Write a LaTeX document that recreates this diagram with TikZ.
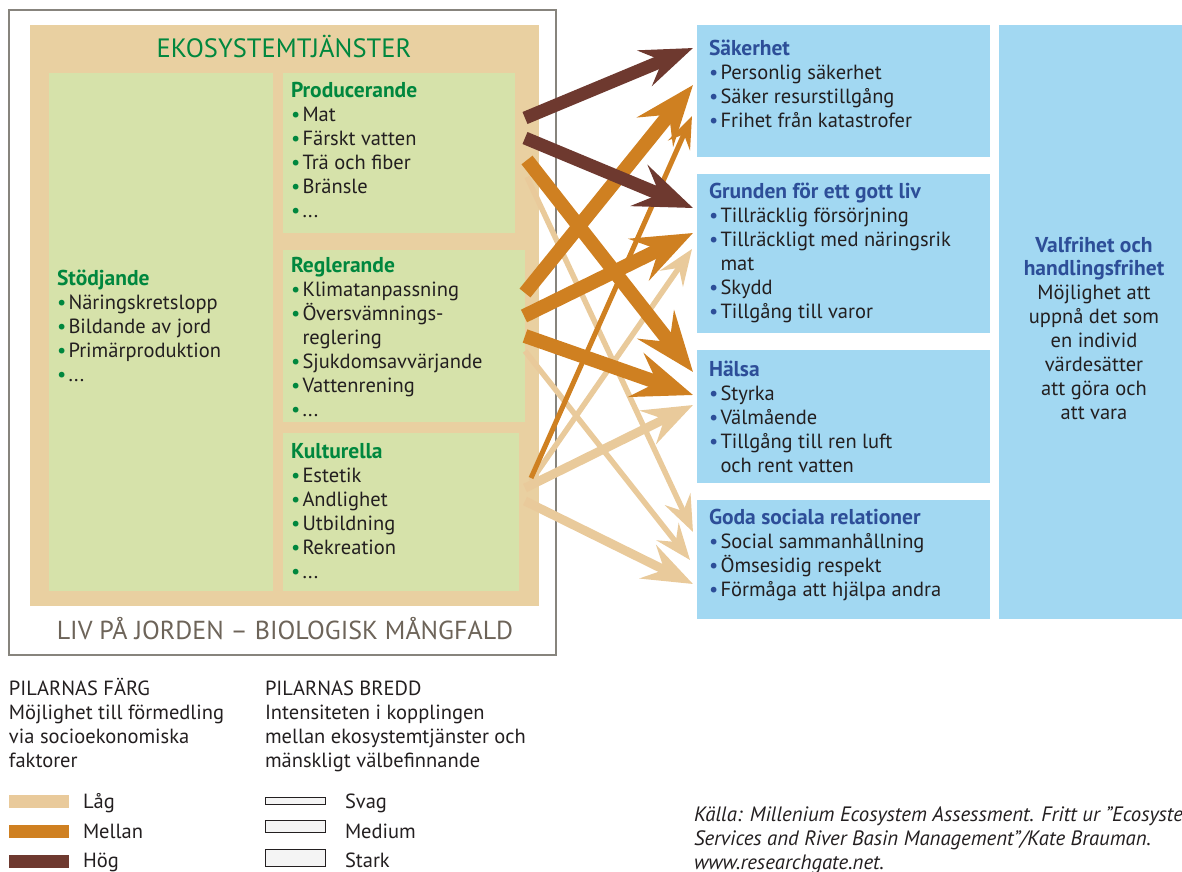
\documentclass[tikz,border=0pt]{standalone}
\usepackage{fontspec}
\setmainfont{PT Sans}
\usetikzlibrary{arrows.meta}
\definecolor{tanbg}{RGB}{233,208,161}
\definecolor{greenbox}{RGB}{214,226,170}
\definecolor{greentxt}{RGB}{0,135,62}
\definecolor{bluebox}{RGB}{162,216,242}
\definecolor{bluetxt}{RGB}{45,78,152}
\definecolor{darkarr}{RGB}{110,57,47}
\definecolor{orangearr}{RGB}{207,128,33}
\definecolor{tanarr}{RGB}{233,202,155}
\definecolor{framegray}{RGB}{135,132,125}
\definecolor{livtxt}{RGB}{109,100,89}
\definecolor{txt}{RGB}{35,31,32}
\definecolor{swfill}{RGB}{244,244,244}
\newcommand\gbul{\makebox[11.5pt][l]{\textcolor{greentxt}{•}}}
\newcommand\bbul{\makebox[11.5pt][l]{\textcolor{bluetxt}{•}}}
\newcommand\indt{\hspace*{11.5pt}}
\newcommand\tdots{.{}.{}.}
\newcommand\ghd[1]{{\fontsize{21.5}{24}\selectfont\bfseries\color{greentxt}#1}}
\newcommand\bhd[1]{{\fontsize{21.5}{24}\selectfont\bfseries\color{bluetxt}#1}}
\newcommand\boxlines[4]{\foreach \t [count=\i from 0] in {#4} {\node[tl] (#1\i) at (#2,#3+24*\i) {\t};}}
\begin{document}
\begin{tikzpicture}[x=1pt,y=-1pt,
  box/.style={anchor=north west,inner sep=0pt,outer sep=0pt},
  tl/.style={anchor=base west,inner sep=0pt,outer sep=0pt,font=\fontsize{20.5}{24}\selectfont,text=txt},
  tc/.style={anchor=base,inner sep=0pt,outer sep=0pt,font=\fontsize{20.5}{24}\selectfont,text=txt},
  darrow/.style={draw=darkarr,line width=13pt,-{Stealth[length=58pt,width=44pt,inset=22pt]}},
  oarrow/.style={draw=orangearr,line width=14pt,-{Stealth[length=60pt,width=46pt,inset=22pt]}},
  othin/.style={draw=orangearr,line width=5pt,-{Stealth[length=32pt,width=24pt,inset=12pt]}},
  tthin/.style={draw=tanarr,line width=5.5pt,-{Stealth[length=36pt,width=28pt,inset=13pt]}},
  tmed/.style={draw=tanarr,line width=9pt,-{Stealth[length=50pt,width=37pt,inset=18pt]}},
  swatch/.style={anchor=north west,inner sep=0pt,outer sep=0pt,minimum width=60pt},
  wswatch/.style={anchor=north west,inner sep=0pt,outer sep=0pt,minimum width=60pt,draw=txt,line width=0.9pt,fill=swfill}
]
\useasboundingbox (0,0) rectangle (1182,871);
% outer frame and ecosystem services area
\node[box,draw=framegray,line width=1.3pt,minimum width=547pt,minimum height=645pt] (frame) at (9,10) {};
\node[box,fill=tanbg,minimum width=509pt,minimum height=581pt] (eko) at (30,25) {};
\node[box,fill=greenbox,minimum width=224pt,minimum height=518pt] (stod) at (49,73) {};
\node[box,fill=greenbox,minimum width=232pt,minimum height=160pt] (prod) at (283,73) {};
\node[box,fill=greenbox,minimum width=242pt,minimum height=172pt] (regl) at (283,250) {};
\node[box,fill=greenbox,minimum width=236pt,minimum height=158pt] (kult) at (283,433) {};
\node[anchor=base,inner sep=0pt,font=\fontsize{26.5}{30}\selectfont,text=greentxt] (ekotitle) at (284,57) {EKOSYSTEMTJÄNSTER};
\node[anchor=base,inner sep=0pt,font=\fontsize{26}{30}\selectfont,text=livtxt] (liv) at (285,639) {LIV PÅ JORDEN – BIOLOGISK MÅNGFALD};
% blue boxes
\node[box,fill=bluebox,minimum width=293pt,minimum height=132pt] (sak) at (697,25) {};
\node[box,fill=bluebox,minimum width=293pt,minimum height=159pt] (grund) at (697,174) {};
\node[box,fill=bluebox,minimum width=293pt,minimum height=133pt] (hals) at (697,350) {};
\node[box,fill=bluebox,minimum width=293pt,minimum height=119pt] (goda) at (697,500) {};
\node[box,fill=bluebox,minimum width=183pt,minimum height=594pt] (valf) at (999,25) {};
% texts in green boxes
\boxlines{pt}{291}{97}{{\ghd{Producerande}},{\gbul Mat},{\gbul Färskt vatten},{\gbul Trä och fiber},{\gbul Bränsle},{\gbul \tdots}}
\boxlines{rt}{291}{272}{{\ghd{Reglerande}},{\gbul Klimatanpassning},{\gbul Översvämnings-},{\indt reglering},{\gbul Sjukdomsavvärjande},{\gbul Vattenrening},{\gbul \tdots}}
\boxlines{kt}{291}{458}{{\ghd{Kulturella}},{\gbul Estetik},{\gbul Andlighet},{\gbul Utbildning},{\gbul Rekreation},{\gbul \tdots}}
\boxlines{st}{57}{285}{{\ghd{Stödjande}},{\gbul Näringskretslopp},{\gbul Bildande av jord},{\gbul Primärproduktion},{\gbul \tdots}}
% texts in blue boxes
\boxlines{sa}{709}{55}{{\bhd{Säkerhet}},{\bbul Personlig säkerhet},{\bbul Säker resurstillgång},{\bbul Frihet från katastrofer}}
\boxlines{gr}{709}{198}{{\bhd{Grunden för ett gott liv}},{\bbul Tillräcklig försörjning},{\bbul Tillräckligt med näringsrik},{\indt mat},{\bbul Skydd},{\bbul Tillgång till varor}}
\boxlines{ha}{709}{376}{{\bhd{Hälsa}},{\bbul Styrka},{\bbul Välmående},{\bbul Tillgång till ren luft},{\indt och rent vatten}}
\boxlines{go}{709}{524}{{\bhd{Goda sociala relationer}},{\bbul Social sammanhållning},{\bbul Ömsesidig respekt},{\bbul Förmåga att hjälpa andra}}
\foreach \t [count=\i from 0] in {{\bhd{Valfrihet och}},{\bhd{handlingsfrihet}},Möjlighet att,uppnå det som,en individ,värdesätter,att göra och,att vara}
  {\node[tc] (va\i) at (1094,252+23.9*\i) {\t};}
% arrow end points
\coordinate (a1s) at (525,118); \coordinate (a1e) at (693,48);
\coordinate (a2s) at (525,138); \coordinate (a2e) at (693,208);
\coordinate (b1s) at (527,160); \coordinate (b1e) at (693,372);
\coordinate (b2s) at (525,293); \coordinate (b2e) at (693,85);
\coordinate (b3s) at (524,316); \coordinate (b3e) at (693,233);
\coordinate (b4s) at (525,336); \coordinate (b4e) at (693,395);
\coordinate (c1s) at (531,478); \coordinate (c1e) at (692,116);
\coordinate (d1s) at (527,177); \coordinate (d1e) at (693,532);
\coordinate (d2s) at (525,351); \coordinate (d2e) at (690,560);
\coordinate (d3s) at (531,481); \coordinate (d3e) at (692,249);
\coordinate (e1s) at (525,488); \coordinate (e1e) at (693,405);
\coordinate (e2s) at (525,501); \coordinate (e2e) at (693,584);
% arrows: tan, orange, dark
\draw[tthin] (d1s) -- (d1e);
\draw[tthin] (d2s) -- (d2e);
\draw[tthin] (d3s) -- (d3e);
\draw[tmed] (e1s) -- (e1e);
\draw[tmed] (e2s) -- (e2e);
\draw[oarrow] (b1s) -- (b1e);
\draw[oarrow] (b2s) -- (b2e);
\draw[oarrow] (b3s) -- (b3e);
\draw[oarrow] (b4s) -- (b4e);
\draw[othin] (c1s) -- (c1e);
\draw[darrow,-{Stealth[length=52pt,width=38pt,inset=19pt]}] (a1s) -- (a1e);
\draw[darrow] (a2s) -- (a2e);
% legend
\foreach \t [count=\i from 0] in {PILARNAS FÄRG,Möjlighet till förmedling,via socioekonomiska,faktorer}
  {\node[tl] (lf\i) at (9,695+24*\i) {\t};}
\foreach \t [count=\i from 0] in {PILARNAS BREDD,Intensiteten i kopplingen,mellan ekosystemtjänster och,mänskligt välbefinnande}
  {\node[tl] (lb\i) at (265,695+24*\i) {\t};}
\node[swatch,fill=tanarr,minimum height=13pt] (sw1) at (9,795) {};
\node[swatch,fill=orangearr,minimum height=13pt] (sw2) at (9,825) {};
\node[swatch,fill=darkarr,minimum height=13pt] (sw3) at (9,855) {};
\node[tl] (lw1) at (83,808) {Låg};
\node[tl] (lw2) at (83,838) {Mellan};
\node[tl] (lw3) at (83,867) {Hög};
\node[wswatch,minimum height=7pt] (ws1) at (265,797) {};
\node[wswatch,minimum height=12pt] (ws2) at (265,820) {};
\node[wswatch,minimum height=17pt] (ws3) at (265,849) {};
\node[tl] (lx1) at (345,808) {Svag};
\node[tl] (lx2) at (345,838) {Medium};
\node[tl] (lx3) at (345,867) {Stark};
% source
\foreach \t [count=\i from 0] in {Källa: Millenium Ecosystem Assessment. Fritt ur ”Ecosystem,Services and River Basin Management”/Kate Brauman.,www.researchgate.net.}
  {\node[tl,font=\fontsize{20.8}{24}\selectfont\itshape] (src\i) at (694,821+24*\i) {\t};}
\end{tikzpicture}
\end{document}
